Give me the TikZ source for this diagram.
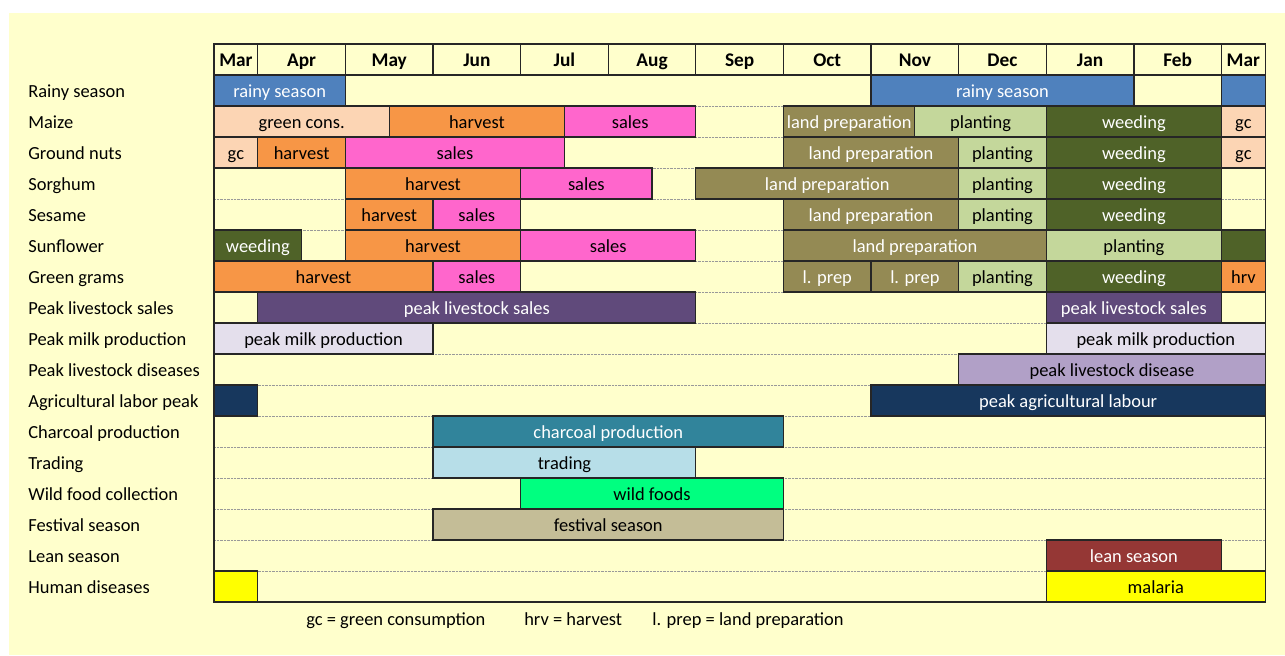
\documentclass[tikz,border=0pt]{standalone}
\usepackage{fontspec}
\setmainfont{Carlito}
\usepackage{tikz}

\definecolor{bgyellow}{HTML}{FFFFCC}
\definecolor{rainblue}{HTML}{4F81BD}
\definecolor{peach}{HTML}{FCD5B4}
\definecolor{harvorange}{HTML}{F79646}
\definecolor{salespink}{HTML}{FF66CC}
\definecolor{landolive}{HTML}{948A54}
\definecolor{plantgreen}{HTML}{C4D79B}
\definecolor{weedgreen}{HTML}{4F6228}
\definecolor{stockpurple}{HTML}{604A7B}
\definecolor{milklilac}{HTML}{E4DFEC}
\definecolor{diseaselilac}{HTML}{B1A0C7}
\definecolor{labournavy}{HTML}{17375D}
\definecolor{charcoalteal}{HTML}{31849B}
\definecolor{tradeblue}{HTML}{B7DEE8}
\definecolor{wildgreen}{HTML}{00FF80}
\definecolor{festkhaki}{HTML}{C4BD97}
\definecolor{leanred}{HTML}{953735}
\definecolor{malariayellow}{HTML}{FFFF00}

% row, from, to (half months), fill, text colour, label
\newcommand{\activity}[6]{%
	\draw[cell, fill=#4] (#2, #1) rectangle (#3, #1+1);
	\node[text=#5] (act-#1-#2) at ({(#2+#3)/2}, #1+0.5) {#6};
}

\begin{document}
\begin{tikzpicture}[x=0.876cm, y=-0.62cm, font=\fontsize{10.5}{12}\selectfont,
		every node/.style={text height=1.5ex, text depth=0.25ex, yshift=-0.8pt},
		cell/.style={draw=black!85, line width=0.7pt},
		rowline/.style={draw=black!40, dash pattern=on 0.4pt off 0.4pt, line width=0.5pt},
		rowlabel/.style={anchor=west, inner sep=0pt},
		month/.style={font=\fontsize{11}{12}\selectfont\bfseries}]
		\useasboundingbox (-4.886, -2.419) rectangle (24.45, 18.71);
		\fill[white] (-4.886, -2.419) rectangle (24.45, 18.71);
		\fill[bgyellow] (-4.68, -2.0) rectangle (24.45, 18.71);

		% grid
		\foreach \r in {1,...,16}
			\draw[rowline] (0, \r) -- (24, \r);
		\foreach \m/\a/\b in {Mar/0/1, Apr/1/3, May/3/5, Jun/5/7, Jul/7/9, Aug/9/11,
			Sep/11/13, Oct/13/15, Nov/15/17, Dec/17/19, Jan/19/21, Feb/21/23, Mar/23/24} {
			\draw[cell] (\a, -1) rectangle (\b, 0);
			\node[month] (m-\a) at ({(\a+\b)/2}, -0.5) {\m};
		}

		% row names
		\foreach \lab [count=\r from 0] in {Rainy season, Maize, Ground nuts, Sorghum,
			Sesame, Sunflower, Green grams, Peak livestock sales, Peak milk production,
			Peak livestock diseases, Agricultural labor peak, Charcoal production,
			Trading, Wild food collection, Festival season, Lean season, Human diseases}
			\node[rowlabel] (row\r) at (-4.247, \r+0.5) {\lab};

		% rainy season
		\activity{0}{0}{3}{rainblue}{white}{rainy season}
		\activity{0}{15}{21}{rainblue}{white}{rainy season}
		\activity{0}{23}{24}{rainblue}{white}{}
		% maize
		\activity{1}{0}{4}{peach}{black}{green cons.}
		\activity{1}{4}{8}{harvorange}{black}{harvest}
		\activity{1}{8}{11}{salespink}{black}{sales}
		\activity{1}{13}{16}{landolive}{white}{land preparation}
		\activity{1}{16}{19}{plantgreen}{black}{planting}
		\activity{1}{19}{23}{weedgreen}{white}{weeding}
		\activity{1}{23}{24}{peach}{black}{gc}
		% ground nuts
		\activity{2}{0}{1}{peach}{black}{gc}
		\activity{2}{1}{3}{harvorange}{black}{harvest}
		\activity{2}{3}{8}{salespink}{black}{sales}
		\activity{2}{13}{17}{landolive}{white}{land preparation}
		\activity{2}{17}{19}{plantgreen}{black}{planting}
		\activity{2}{19}{23}{weedgreen}{white}{weeding}
		\activity{2}{23}{24}{peach}{black}{gc}
		% sorghum
		\activity{3}{3}{7}{harvorange}{black}{harvest}
		\activity{3}{7}{10}{salespink}{black}{sales}
		\activity{3}{11}{17}{landolive}{white}{land preparation}
		\activity{3}{17}{19}{plantgreen}{black}{planting}
		\activity{3}{19}{23}{weedgreen}{white}{weeding}
		% sesame
		\activity{4}{3}{5}{harvorange}{black}{harvest}
		\activity{4}{5}{7}{salespink}{black}{sales}
		\activity{4}{13}{17}{landolive}{white}{land preparation}
		\activity{4}{17}{19}{plantgreen}{black}{planting}
		\activity{4}{19}{23}{weedgreen}{white}{weeding}
		% sunflower
		\activity{5}{0}{2}{weedgreen}{white}{weeding}
		\activity{5}{3}{7}{harvorange}{black}{harvest}
		\activity{5}{7}{11}{salespink}{black}{sales}
		\activity{5}{13}{19}{landolive}{white}{land preparation}
		\activity{5}{19}{23}{plantgreen}{black}{planting}
		\activity{5}{23}{24}{weedgreen}{white}{}
		% green grams
		\activity{6}{0}{5}{harvorange}{black}{harvest}
		\activity{6}{5}{7}{salespink}{black}{sales}
		\activity{6}{13}{15}{landolive}{white}{l. prep}
		\activity{6}{15}{17}{landolive}{white}{l. prep}
		\activity{6}{17}{19}{plantgreen}{black}{planting}
		\activity{6}{19}{23}{weedgreen}{white}{weeding}
		\activity{6}{23}{24}{harvorange}{black}{hrv}
		% livestock
		\activity{7}{1}{11}{stockpurple}{white}{peak livestock sales}
		\activity{7}{19}{23}{stockpurple}{white}{peak livestock sales}
		\activity{8}{0}{5}{milklilac}{black}{peak milk production}
		\activity{8}{19}{24}{milklilac}{black}{peak milk production}
		\activity{9}{17}{24}{diseaselilac}{black}{peak livestock disease}
		% labour and other activities
		\activity{10}{0}{1}{labournavy}{white}{}
		\activity{10}{15}{24}{labournavy}{white}{peak agricultural labour}
		\activity{11}{5}{13}{charcoalteal}{white}{charcoal production}
		\activity{12}{5}{11}{tradeblue}{black}{trading}
		\activity{13}{7}{13}{wildgreen}{black}{wild foods}
		\activity{14}{5}{13}{festkhaki}{black}{festival season}
		\activity{15}{19}{23}{leanred}{white}{lean season}
		\activity{16}{0}{1}{malariayellow}{black}{}
		\activity{16}{19}{24}{malariayellow}{black}{malaria}

		% table frame
		\draw[cell] (0, -1) -- (0, 17) -- (24, 17) -- (24, -1);

		% legend
		\node (key-gc) at (4.15, 17.55) {gc = green consumption};
		\node (key-hrv) at (8.20, 17.55) {hrv = harvest};
		\node (key-lprep) at (12.19, 17.55) {l. prep = land preparation};
\end{tikzpicture}
\end{document}
